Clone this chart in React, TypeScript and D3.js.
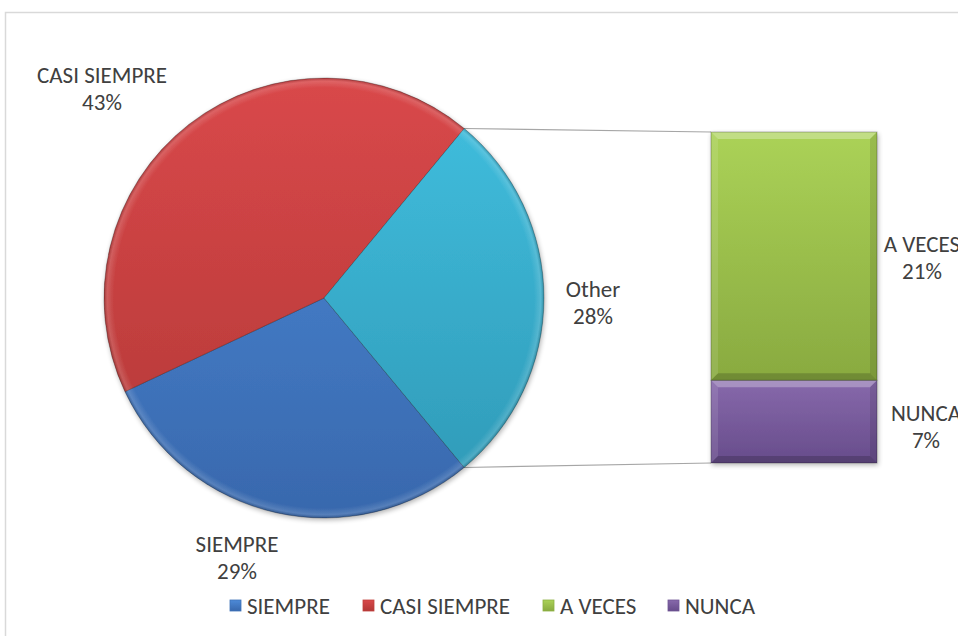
import React from "react";
import * as d3 from "d3";

const categories = ["SIEMPRE", "CASI SIEMPRE", "A VECES", "NUNCA"];
const values = [29, 43, 21, 7];
const pieCount = 2; // first two in the pie, the rest in "Other"
const otherLabel = "Other";

const colorsTop = ["#4d8ad8", "#d9484a", "#abd257", "#8769ab"];
const colorsBottom = ["#3868ad", "#b13836", "#89aa40", "#674c8b"];
const otherTop = "#41c0e0";
const otherBottom = "#2f98b5";
const legendColors = ["#3f73b8", "#c0403c", "#8db143", "#6f5594"];

const W = 958, H = 636;
const cx = 324, cy = 298, R = 220;
const barX0 = 711, barX1 = 877, barTop = 132, barBottom = 463;
const FONT = "Carlito, Calibri, 'Open Sans', sans-serif";
const TEXT = "#404040";
const FS = 23;

export default function App() {
  const total = d3.sum(values);
  const otherVal = d3.sum(values.slice(pieCount));
  const f = otherVal / total;
  const start = Math.PI / 2 + f * Math.PI;
  const pieData = [...values.slice(0, pieCount), otherVal];
  const pieNames = [...categories.slice(0, pieCount), otherLabel];
  const arcs = d3.pie<number>().sort(null).startAngle(start).endAngle(start + 2 * Math.PI)(pieData);
  const arcGen = d3.arc<d3.PieArcDatum<number>>().innerRadius(0).outerRadius(R);
  const fmt = (v: number) => `${Math.round((v / total) * 100)}%`;

  const y = d3.scaleLinear().domain([0, otherVal]).range([barBottom, barTop]);
  const barItems: { name: string; v: number; y0: number; y1: number; idx: number }[] = [];
  let acc = 0;
  for (let i = categories.length - 1; i >= pieCount; i--) {
    barItems.push({ name: categories[i], v: values[i], y0: acc, y1: acc + values[i], idx: i });
    acc += values[i];
  }

  const pt = (a: number) => [cx + R * Math.sin(a), cy - R * Math.cos(a)];
  const otherArc = arcs[arcs.length - 1];
  const pUp = pt(otherArc.startAngle);
  const pDown = pt(otherArc.endAngle);

  const pieLabelPos: [number, number][] = [
    [237, 552],
    [102, 83],
    [593, 297],
  ];
  const barLabelPos: Record<string, [number, number]> = {
    "A VECES": [922, 252],
    NUNCA: [926, 421],
  };

  const legendX = [230, 363, 543, 668];
  const legendY = 606;

  const bevel = 7;

  return (
    <svg width={W} height={H} style={{ position: "absolute", left: 0, top: 0, background: "#fff" }} fontFamily={FONT}>
      <defs>
        {pieNames.map((n, i) => (
          <linearGradient key={n} id={`pg${i}`} gradientUnits="userSpaceOnUse" x1="0" y1={-R} x2="0" y2={R}>
            <stop offset="0" stopColor={i < pieCount ? colorsTop[i] : otherTop} />
            <stop offset="1" stopColor={i < pieCount ? colorsBottom[i] : otherBottom} />
          </linearGradient>
        ))}
        {categories.map((n, i) => (
          <linearGradient key={n} id={`bg${i}`} x1="0" y1="0" x2="0" y2="1">
            <stop offset="0" stopColor={colorsTop[i]} />
            <stop offset="1" stopColor={colorsBottom[i]} />
          </linearGradient>
        ))}
        <radialGradient id="rim" gradientUnits="userSpaceOnUse" cx="0" cy="0" r={R}>
          <stop offset="0.955" stopColor="#fff" stopOpacity="0" />
          <stop offset="0.985" stopColor="#fff" stopOpacity="0.15" />
          <stop offset="1" stopColor="#000" stopOpacity="0.2" />
        </radialGradient>
        <filter id="sh" x="-10%" y="-10%" width="120%" height="120%">
          <feGaussianBlur in="SourceAlpha" stdDeviation="2.5" />
          <feOffset dx="1" dy="2" result="b" />
          <feComponentTransfer><feFuncA type="linear" slope="0.3" /></feComponentTransfer>
          <feMerge><feMergeNode /><feMergeNode in="SourceGraphic" /></feMerge>
        </filter>
      </defs>

      <rect x={5.5} y={12.5} width={W + 20} height={H + 20} fill="#fff" stroke="#d9d9d9" strokeWidth={1.5} />

      <line x1={pUp[0]} y1={pUp[1]} x2={barX0} y2={barTop} stroke="#a6a6a6" strokeWidth={1.2} />
      <line x1={pDown[0]} y1={pDown[1]} x2={barX0} y2={barBottom} stroke="#a6a6a6" strokeWidth={1.2} />

      <g transform={`translate(${cx},${cy})`} filter="url(#sh)">
        {arcs.map((a, i) => (
          <path key={i} d={arcGen(a) || ""} fill={`url(#pg${i})`} stroke="rgba(0,0,0,0.25)" strokeWidth={1} strokeLinejoin="round" />
        ))}
        {arcs.map((a, i) => (
          <path key={`h${i}`} d={arcGen(a) || ""} fill="url(#rim)" stroke="none" />
        ))}
      </g>

      <g filter="url(#sh)">
        {barItems.map((b) => {
          const t = y(b.y1), bt = y(b.y0);
          const x0 = barX0, x1 = barX1;
          const e = bevel;
          return (
            <g key={b.name}>
              <rect x={x0} y={t} width={x1 - x0} height={bt - t} fill={`url(#bg${b.idx})`} />
              <polygon points={`${x0},${t} ${x1},${t} ${x1 - e},${t + e} ${x0 + e},${t + e}`} fill="#fff" opacity={0.28} />
              <polygon points={`${x0},${t} ${x0 + e},${t + e} ${x0 + e},${bt - e} ${x0},${bt}`} fill="#fff" opacity={0.1} />
              <polygon points={`${x1},${t} ${x1},${bt} ${x1 - e},${bt - e} ${x1 - e},${t + e}`} fill="#000" opacity={0.1} />
              <polygon points={`${x0},${bt} ${x0 + e},${bt - e} ${x1 - e},${bt - e} ${x1},${bt}`} fill="#000" opacity={0.18} />
              <rect x={x0} y={t} width={x1 - x0} height={bt - t} fill="none" stroke="rgba(0,0,0,0.25)" strokeWidth={1} />
            </g>
          );
        })}
      </g>

      {arcs.map((a, i) => (
        <text key={`l${i}`} x={pieLabelPos[i][0]} y={pieLabelPos[i][1]} textAnchor="middle" fontSize={FS} fill={TEXT}>
          <tspan x={pieLabelPos[i][0]}>{pieNames[i]}</tspan>
          <tspan x={pieLabelPos[i][0]} dy={27}>{fmt(a.value)}</tspan>
        </text>
      ))}

      {barItems.map((b) => {
        const p = barLabelPos[b.name];
        return (
          <text key={`bl${b.name}`} x={p[0]} y={p[1]} textAnchor="middle" fontSize={FS} fill={TEXT}>
            <tspan x={p[0]}>{b.name}</tspan>
            <tspan x={p[0]} dy={27}>{fmt(b.v)}</tspan>
          </text>
        );
      })}

      {categories.map((c, i) => (
        <g key={`lg${c}`}>
          <rect x={legendX[i]} y={legendY - 6} width={11} height={11} fill={`url(#bg${i})`} stroke={legendColors[i]} strokeWidth={0.8} />
          <text x={legendX[i] + 17} y={legendY + 8} fontSize={FS} fill={TEXT}>{c}</text>
        </g>
      ))}
    </svg>
  );
}
